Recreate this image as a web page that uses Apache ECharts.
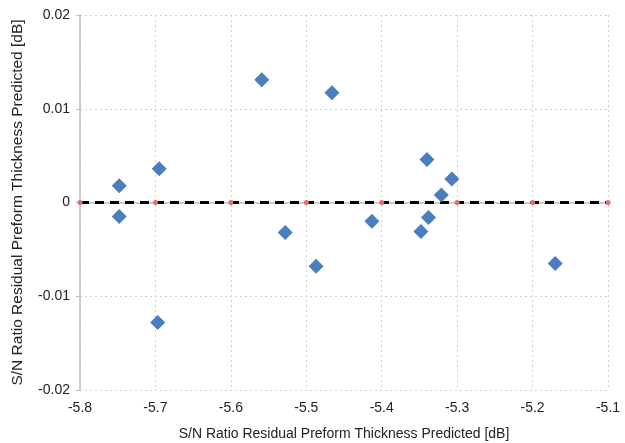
<!DOCTYPE html>
<html>
<head>
<meta charset="utf-8">
<script src="https://cdn.jsdelivr.net/npm/echarts@6/dist/echarts.min.js"></script>
<style>
html,body{margin:0;padding:0;background:#fff}
#chart{width:625px;height:443px}
</style>
</head>
<body>
<div id="chart"></div>
<script>
// predicted S/N values (x) and residuals (y)
var predX = [-5.748, -5.748, -5.695, -5.697, -5.559, -5.528, -5.466, -5.487, -5.413, -5.340, -5.348, -5.338, -5.321, -5.307, -5.170];
var residY = [0.0018, -0.0015, 0.0036, -0.0128, 0.0131, -0.0032, 0.0117, -0.0068, -0.0020, 0.0046, -0.0031, -0.0016, 0.0008, 0.0025, -0.0065];
// zero reference line
var zeroX = [-5.8, -5.7, -5.6, -5.5, -5.4, -5.3, -5.2, -5.1];
var zeroY = [0, 0, 0, 0, 0, 0, 0, 0];

var axisTitle = 'S/N Ratio Residual Preform Thickness Predicted [dB]';

var myChart = echarts.init(document.getElementById('chart'));

var pts = predX.map(function (x, i) { return [x, residY[i]]; });
var zeroPts = zeroX.map(function (x, i) { return [x, zeroY[i]]; });

myChart.setOption({
    animation: false,
    grid: { left: 80, right: 17, top: 15, bottom: 53, outerBoundsMode: 'none', containLabel: false },
    xAxis: {
        type: 'value',
        min: -5.8, max: -5.1, interval: 0.1,
        name: axisTitle,
        nameLocation: 'middle',
        nameGap: 37,
        nameTextStyle: { fontFamily: 'Liberation Sans', fontSize: 14, color: '#222' },
        axisLine: { show: true, lineStyle: { color: '#bfbfbf', width: 1.5 } },
        axisTick: { show: true, length: 4, lineStyle: { color: '#bfbfbf' } },
        axisLabel: {
            fontFamily: 'Liberation Sans', fontSize: 14, color: '#222', margin: 11,
            formatter: function (v) { return (Math.round(v * 10) / 10).toFixed(1); }
        },
        splitLine: { show: true, lineStyle: { color: '#d0d0d0', type: [2, 3] } }
    },
    yAxis: {
        type: 'value',
        min: -0.02, max: 0.02, interval: 0.01,
        name: axisTitle,
        nameLocation: 'middle',
        nameGap: 54,
        nameTextStyle: { fontFamily: 'Liberation Sans', fontSize: 15.5, color: '#222' },
        axisLine: { show: true, lineStyle: { color: '#bfbfbf', width: 1.5 } },
        axisTick: { show: true, length: 4, lineStyle: { color: '#bfbfbf' } },
        axisLabel: {
            fontFamily: 'Liberation Sans', fontSize: 14, color: '#222', margin: 10,
            formatter: function (v) { return v === 0 ? '0' : (Math.round(v * 100) / 100).toString(); }
        },
        splitLine: { show: true, lineStyle: { color: '#d0d0d0', type: [2, 3] } }
    },
    series: [
        {
            type: 'line',
            data: zeroPts,
            symbol: 'circle',
            symbolSize: 5,
            itemStyle: { color: '#e07070', opacity: 1 },
            lineStyle: { color: '#000', width: 3, type: [9, 6] },
            z: 3
        },
        {
            type: 'scatter',
            data: pts,
            symbol: 'diamond',
            symbolSize: 15,
            itemStyle: { color: '#4a7ebf', opacity: 1 },
            z: 4
        }
    ]
});
</script>
</body>
</html>
